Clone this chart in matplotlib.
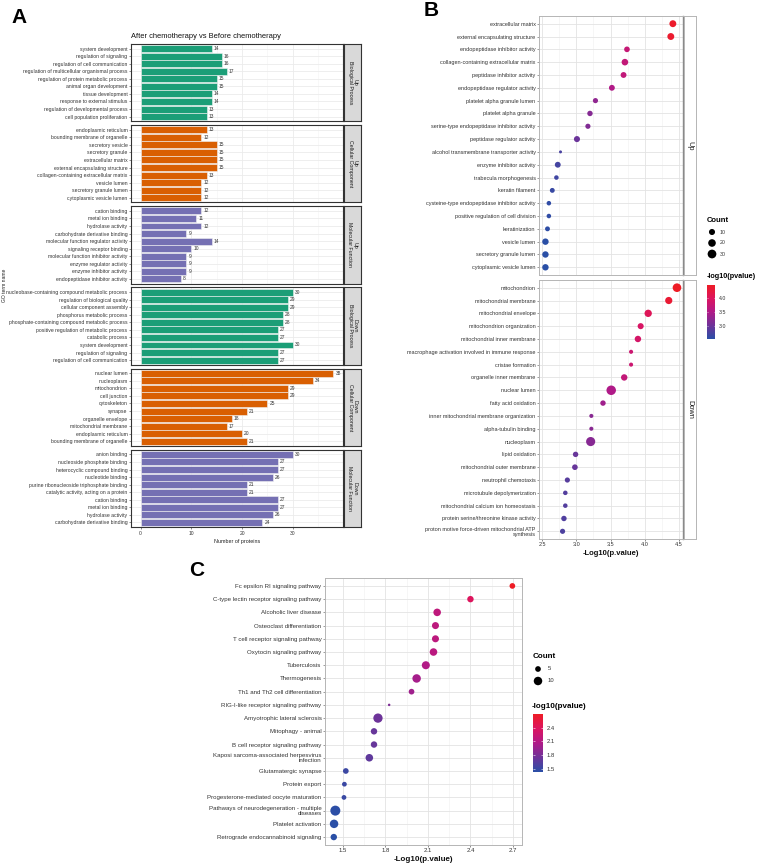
import matplotlib
matplotlib.use("Agg")
import matplotlib.pyplot as plt
from matplotlib.colors import LinearSegmentedColormap, Normalize
from matplotlib.cm import ScalarMappable
import numpy as np

plt.rcParams['font.family'] = ['Liberation Sans', 'DejaVu Sans']

# ---------------- data: panel A (GO bar chart) ----------------
up_bp_terms = ["system development", "regulation of signaling", "regulation of cell communication",
               "regulation of multicellular organismal process", "regulation of protein metabolic process",
               "animal organ development", "tissue development", "response to external stimulus",
               "regulation of developmental process", "cell population proliferation"]
up_bp_counts = [14, 16, 16, 17, 15, 15, 14, 14, 13, 13]

up_cc_terms = ["endoplasmic reticulum", "bounding membrane of organelle", "secretory vesicle",
               "secretory granule", "extracellular matrix", "external encapsulating structure",
               "collagen-containing extracellular matrix", "vesicle lumen", "secretory granule lumen",
               "cytoplasmic vesicle lumen"]
up_cc_counts = [13, 12, 15, 15, 15, 15, 13, 12, 12, 12]

up_mf_terms = ["cation binding", "metal ion binding", "hydrolase activity", "carbohydrate derivative binding",
               "molecular function regulator activity", "signaling receptor binding",
               "molecular function inhibitor activity", "enzyme regulator activity",
               "enzyme inhibitor activity", "endopeptidase inhibitor activity"]
up_mf_counts = [12, 11, 12, 9, 14, 10, 9, 9, 9, 8]

down_bp_terms = ["nucleobase-containing compound metabolic process", "regulation of biological quality",
                 "cellular component assembly", "phosphorus metabolic process",
                 "phosphate-containing compound metabolic process", "positive regulation of metabolic process",
                 "catabolic process", "system development", "regulation of signaling",
                 "regulation of cell communication"]
down_bp_counts = [30, 29, 29, 28, 28, 27, 27, 30, 27, 27]

down_cc_terms = ["nuclear lumen", "nucleoplasm", "mitochondrion", "cell junction", "cytoskeleton", "synapse",
                 "organelle envelope", "mitochondrial membrane", "endoplasmic reticulum",
                 "bounding membrane of organelle"]
down_cc_counts = [38, 34, 29, 29, 25, 21, 18, 17, 20, 21]

down_mf_terms = ["anion binding", "nucleoside phosphate binding", "heterocyclic compound binding",
                 "nucleotide binding", "purine ribonucleoside triphosphate binding",
                 "catalytic activity, acting on a protein", "cation binding", "metal ion binding",
                 "hydrolase activity", "carbohydrate derivative binding"]
down_mf_counts = [30, 27, 27, 26, 21, 21, 27, 27, 26, 24]

facet_labels = ["Up\nBiological Process", "Up\nCellular Component", "Up\nMolecular Function",
                "Down\nBiological Process", "Down\nCellular Component", "Down\nMolecular Function"]
ont_colors = {"Biological Process": "#1B9E77", "Cellular Component": "#D95F02",
              "Molecular Function": "#7570B3"}

# ---------------- data: panel B (GO dot plot) ----------------
b_up_terms = ["extracellular matrix", "external encapsulating structure", "endopeptidase inhibitor activity",
              "collagen-containing extracellular matrix", "peptidase inhibitor activity",
              "endopeptidase regulator activity", "platelet alpha granule lumen", "platelet alpha granule",
              "serine-type endopeptidase inhibitor activity", "peptidase regulator activity",
              "alcohol transmembrane transporter activity", "enzyme inhibitor activity",
              "trabecula morphogenesis", "keratin filament", "cysteine-type endopeptidase inhibitor activity",
              "positive regulation of cell division", "keratinization", "vesicle lumen",
              "secretory granule lumen", "cytoplasmic vesicle lumen"]
b_up_logp = [4.41, 4.38, 3.74, 3.71, 3.69, 3.52, 3.28, 3.20, 3.17, 3.01,
             2.77, 2.73, 2.71, 2.65, 2.60, 2.60, 2.58, 2.55, 2.55, 2.55]
b_up_count = [15, 15, 8, 13, 9, 9, 6, 7, 6, 10, 2, 9, 4, 5, 4, 4, 5, 12, 12, 12]

b_down_terms = ["mitochondrion", "mitochondrial membrane", "mitochondrial envelope", "mitochondrion organization",
                "mitochondrial inner membrane", "macrophage activation involved in immune response",
                "cristae formation", "organelle inner membrane", "nuclear lumen", "fatty acid oxidation",
                "inner mitochondrial membrane organization", "alpha-tubulin binding", "nucleoplasm",
                "lipid oxidation", "mitochondrial outer membrane", "neutrophil chemotaxis",
                "microtubule depolymerization", "mitochondrial calcium ion homeostasis",
                "protein serine/threonine kinase activity",
                "proton motive force-driven mitochondrial ATP\nsynthesis"]
b_down_logp = [4.47, 4.35, 4.05, 3.94, 3.90, 3.80, 3.80, 3.70, 3.51, 3.39,
               3.22, 3.22, 3.21, 2.99, 2.98, 2.87, 2.84, 2.84, 2.82, 2.80]
b_down_count = [29, 17, 18, 10, 12, 3, 3, 12, 38, 7, 3, 3, 34, 7, 8, 6, 4, 4, 7, 6]

# ---------------- data: panel C (KEGG dot plot) ----------------
c_terms = ["Fc epsilon RI signaling pathway", "C-type lectin receptor signaling pathway", "Alcoholic liver disease",
           "Osteoclast differentiation", "T cell receptor signaling pathway", "Oxytocin signaling pathway",
           "Tuberculosis", "Thermogenesis", "Th1 and Th2 cell differentiation",
           "RIG-I-like receptor signaling pathway", "Amyotrophic lateral sclerosis", "Mitophagy - animal",
           "B cell receptor signaling pathway", "Kaposi sarcoma-associated herpesvirus\ninfection",
           "Glutamatergic synapse", "Protein export", "Progesterone-mediated oocyte maturation",
           "Pathways of neurodegeneration - multiple\ndiseases", "Platelet activation",
           "Retrograde endocannabinoid signaling"]
c_logp = [2.696, 2.40, 2.165, 2.153, 2.153, 2.139, 2.085, 2.02, 1.984, 1.826,
          1.747, 1.719, 1.719, 1.686, 1.52, 1.51, 1.507, 1.446, 1.437, 1.435]
c_count = [5, 6, 8, 7, 7, 8, 9, 10, 5, 3, 12, 6, 6, 8, 5, 4, 4, 14, 10, 6]

# ---------------- layout helpers ----------------
W, H = 760, 867
fig = plt.figure(figsize=(W / 100, H / 100), dpi=100)


def box(x0, y0, x1, y1):
    return [x0 / W, 1 - y1 / H, (x1 - x0) / W, (y1 - y0) / H]


cmap = LinearSegmentedColormap.from_list(
    "bp", ["#2A4FA6", "#6E3399", "#B01A88", "#DC1560", "#EE1C25"])
TXT = "#333333"


def dot_size(c, cmin, cmax, d0, d1):
    d_px = d0 + (d1 - d0) * np.sqrt((np.asarray(c, float) - cmin) / (cmax - cmin))
    return (d_px * 0.72) ** 2


# ---------------- panel A ----------------
a_terms = [up_bp_terms, up_cc_terms, up_mf_terms, down_bp_terms, down_cc_terms, down_mf_terms]
a_counts = [up_bp_counts, up_cc_counts, up_mf_counts, down_bp_counts, down_cc_counts, down_mf_counts]
top, bottom, gap = 44, 527, 4
ph = (bottom - top - 5 * gap) / 6
for k in range(6):
    y0 = top + k * (ph + gap)
    y1 = y0 + ph
    ax = fig.add_axes(box(131, y0, 343, y1))
    terms, counts = a_terms[k], a_counts[k]
    n = len(terms)
    ypos = np.arange(n)[::-1]
    col = ont_colors[facet_labels[k].split("\n")[1]]
    ax.barh(ypos, counts, height=0.92, color=col, edgecolor="#F2F2F2", linewidth=0.4, zorder=3)
    for yy, v in zip(ypos, counts):
        ax.text(v + 0.4, yy, str(v), va="center", ha="left", fontsize=3.5, color=TXT, zorder=4)
    ax.set_xlim(-1.9, 39.9)
    ax.set_ylim(-0.6, n - 0.4)
    ax.set_yticks(ypos)
    ax.set_yticklabels(terms, fontsize=3.7, color=TXT)
    ax.set_xticks([0, 10, 20, 30])
    ax.set_xticks([5, 15, 25, 35], minor=True)
    ax.grid(True, which="major", color="#EBEBEB", lw=0.6, zorder=0)
    ax.grid(True, which="minor", axis="x", color="#F4F4F4", lw=0.4, zorder=0)
    ax.tick_params(axis="y", length=1.5, width=0.4, pad=1, color=TXT)
    ax.tick_params(which="minor", length=0)
    if k == 5:
        ax.tick_params(axis="x", labelsize=3.6, length=1.5, width=0.4, pad=1.5, colors=TXT)
        ax.set_xlabel("Number of proteins", fontsize=3.9, color="#222222", labelpad=2)
    else:
        ax.tick_params(axis="x", length=0, labelbottom=False)
    for s in ax.spines.values():
        s.set_color("#333333")
        s.set_linewidth(0.8)
    sax = fig.add_axes(box(344, y0, 361, y1))
    sax.set_facecolor("#D9D9D9")
    sax.set_xticks([])
    sax.set_yticks([])
    for s in sax.spines.values():
        s.set_color("#333333")
        s.set_linewidth(0.8)
    sax.text(0.5, 0.5, facet_labels[k], rotation=270, ha="center", va="center",
             fontsize=3.8, color="#1A1A1A", transform=sax.transAxes, linespacing=1.0)

# ---------------- panel B ----------------
b_norm = Normalize(min(b_up_logp + b_down_logp), max(b_up_logp + b_down_logp))
b_cmin, b_cmax = 2, 38
b_sets = [("Up", b_up_terms, b_up_logp, b_up_count, 16, 275),
          ("Down", b_down_terms, b_down_logp, b_down_count, 280, 539)]
for name, terms, lp, cnt, y0, y1 in b_sets:
    ax = fig.add_axes(box(539, y0, 683, y1))
    n = len(terms)
    ypos = np.arange(n)[::-1]
    ax.scatter(lp, ypos, s=dot_size(cnt, b_cmin, b_cmax, 3.0, 9.5), c=lp, cmap=cmap, norm=b_norm,
               zorder=3, linewidths=0)
    ax.set_xlim(2.456, 4.558)
    ax.set_ylim(-0.6, n - 0.4)
    ax.set_yticks(ypos)
    ax.set_yticklabels(terms, fontsize=3.95, color=TXT)
    for t in ax.get_yticklabels():
        t.set_linespacing(0.95)
    ax.set_xticks([2.5, 3.0, 3.5, 4.0, 4.5])
    ax.set_xticks([2.75, 3.25, 3.75, 4.25], minor=True)
    ax.grid(True, which="major", color="#E3E3E3", lw=0.6, zorder=0)
    ax.grid(True, which="minor", axis="x", color="#F0F0F0", lw=0.4, zorder=0)
    ax.tick_params(axis="y", length=1.5, width=0.4, pad=1, color="#555555")
    ax.tick_params(which="minor", length=0)
    if name == "Down":
        ax.tick_params(axis="x", labelsize=4.0, length=1.5, width=0.4, pad=1, colors=TXT)
        ax.set_xlabel("-Log10(p.value)", fontsize=5.5, fontweight="bold", color="#111111", labelpad=2)
    else:
        ax.tick_params(axis="x", length=0, labelbottom=False)
    for s in ax.spines.values():
        s.set_color("#B5B5B5")
        s.set_linewidth(0.7)
    ax.spines["right"].set_color("#8A8A8A")
    ax.spines["right"].set_linewidth(1.0)
    sax = fig.add_axes(box(684, y0, 696, y1))
    sax.set_facecolor("white")
    sax.set_xticks([])
    sax.set_yticks([])
    for s in sax.spines.values():
        s.set_color("#B5B5B5")
        s.set_linewidth(0.7)
    sax.text(0.5, 0.5, name, rotation=270, ha="center", va="center", fontsize=5.3, color="#1A1A1A",
             transform=sax.transAxes)

# colorbar B
cax = fig.add_axes(box(707, 285, 715, 339))
cb = fig.colorbar(ScalarMappable(norm=b_norm, cmap=cmap), cax=cax, ticks=[3.0, 3.5, 4.0])
cb.outline.set_visible(False)
cax.yaxis.set_ticks_position("both")
cax.tick_params(direction="in", color="white", length=1.0, width=0.4, labelsize=3.8, pad=2.5,
                labelcolor=TXT, labelleft=False, labelright=True)

# ---------------- panel C ----------------
c_norm = Normalize(min(c_logp), max(c_logp))
c_cmin, c_cmax = 3, 14
ax = fig.add_axes(box(325, 578, 522, 845))
n = len(c_terms)
ypos = np.arange(n)[::-1]
ax.scatter(c_logp, ypos, s=dot_size(c_count, c_cmin, c_cmax, 2.5, 10.0), c=c_logp, cmap=cmap,
           norm=c_norm, zorder=3, linewidths=0)
ax.set_xlim(1.373, 2.764)
ax.set_ylim(-0.6, n - 0.4)
ax.set_yticks(ypos)
ax.set_yticklabels(c_terms, fontsize=4.4, color=TXT)
for t in ax.get_yticklabels():
    t.set_linespacing(0.95)
ax.set_xticks([1.5, 1.8, 2.1, 2.4, 2.7])
ax.set_xticks([1.65, 1.95, 2.25, 2.55], minor=True)
ax.grid(True, which="major", color="#E3E3E3", lw=0.6, zorder=0)
ax.grid(True, which="minor", axis="x", color="#F0F0F0", lw=0.4, zorder=0)
ax.tick_params(axis="y", length=1.5, width=0.4, pad=1, color="#555555")
ax.tick_params(axis="x", labelsize=4.3, length=1.5, width=0.4, pad=1, colors=TXT)
ax.tick_params(which="minor", length=0)
ax.set_xlabel("-Log10(p.value)", fontsize=5.8, fontweight="bold", color="#111111", labelpad=2)
for s in ax.spines.values():
    s.set_color("#B5B5B5")
    s.set_linewidth(0.7)

cax2 = fig.add_axes(box(533, 714, 543, 772))
cb2 = fig.colorbar(ScalarMappable(norm=c_norm, cmap=cmap), cax=cax2, ticks=[1.5, 1.8, 2.1, 2.4])
cb2.outline.set_visible(False)
cax2.yaxis.set_ticks_position("both")
cax2.tick_params(direction="in", color="white", length=1.2, width=0.4, labelsize=4.2, pad=2.5,
                 labelcolor=TXT, labelleft=False, labelright=True)

# ---------------- overlay: titles, letters, size legends ----------------
ov = fig.add_axes([0, 0, 1, 1], facecolor="none")
ov.set_xlim(0, W)
ov.set_ylim(H, 0)
ov.axis("off")

ov.text(11, 8, "A", fontsize=15, fontweight="bold", va="top", ha="left")
ov.text(424, 1, "B", fontsize=15, fontweight="bold", va="top", ha="left")
ov.text(189, 561, "C", fontsize=15, fontweight="bold", va="top", ha="left")

ov.text(131, 36, "After chemotherapy vs Before chemotherapy", fontsize=5.4, ha="left", va="center",
        color="#111111")
ov.text(5, 285, "GO term name", fontsize=3.6, rotation=90, ha="center", va="center", color="#222222")

# size legend B
ov.text(707, 220, "Count", fontsize=5.5, fontweight="bold", ha="left", va="center")
b_leg = [10, 20, 30]
ov.scatter([712] * 3, [232, 243, 254], s=dot_size(b_leg, b_cmin, b_cmax, 3.0, 9.5), c="black",
           linewidths=0)
for yy, v in zip([232, 243, 254], b_leg):
    ov.text(720, yy, str(v), fontsize=3.8, ha="left", va="center", color=TXT)
ov.text(707, 277, "-log10(pvalue)", fontsize=5.2, fontweight="bold", ha="left", va="center")

# size legend C
ov.text(533, 656, "Count", fontsize=5.8, fontweight="bold", ha="left", va="center")
c_leg = [5, 10]
ov.scatter([538, 538], [669, 681], s=dot_size(c_leg, c_cmin, c_cmax, 2.5, 10.0), c="black",
           linewidths=0)
for yy, v in zip([669, 681], c_leg):
    ov.text(548, yy, str(v), fontsize=4.2, ha="left", va="center", color=TXT)
ov.text(532, 706, "-log10(pvalue)", fontsize=5.8, fontweight="bold", ha="left", va="center")

fig.savefig("out.png", dpi=100)
